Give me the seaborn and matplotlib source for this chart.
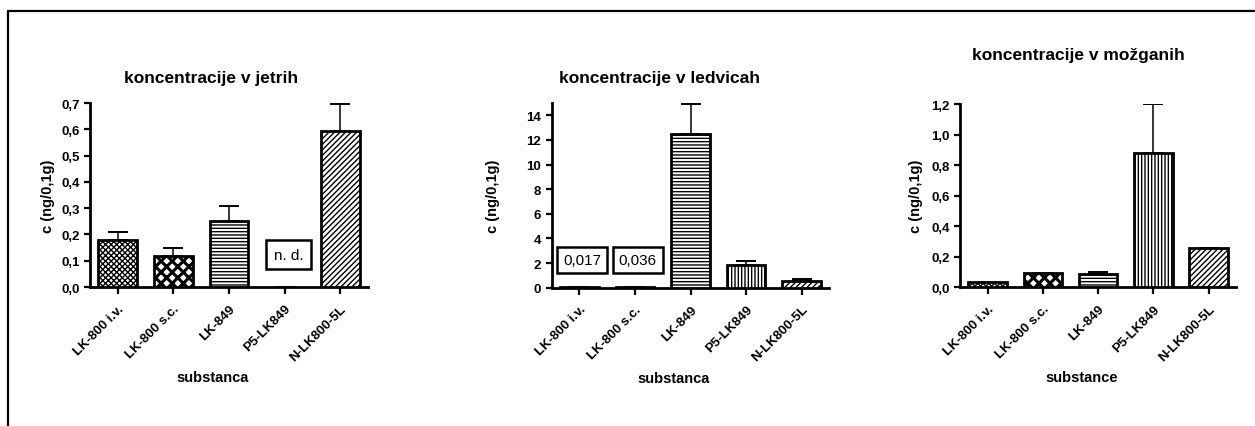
import numpy as np
import pandas as pd
import matplotlib
matplotlib.use("Agg")
import matplotlib.pyplot as plt
from matplotlib.lines import Line2D
from matplotlib.ticker import FuncFormatter
import seaborn as sns

sns.set_style("ticks")
plt.rcParams["font.family"] = ["Liberation Sans", "DejaVu Sans"]
plt.rcParams["hatch.linewidth"] = 1.0
for key in ["text.color", "axes.labelcolor", "xtick.color", "ytick.color",
            "axes.edgecolor"]:
    plt.rcParams[key] = "black"

substance = ["LK-800 i.v.", "LK-800 s.c.", "LK-849", "P5-LK849", "N-LK800-5L"]

# jetra (liver) - P5-LK849 not detected
jetra = [0.180, 0.117, 0.252, 0.0, 0.592]
jetra_err = [0.028, 0.030, 0.055, 0.0, 0.106]

# ledvice (kidney)
ledvice = [0.017, 0.036, 12.5, 1.85, 0.57]
ledvice_err = [0.0, 0.0, 2.46, 0.33, 0.11]

# mozgani (brain)
mozgani = [0.037, 0.096, 0.090, 0.883, 0.258]
mozgani_err = [0.0, 0.0, 0.013, 0.317, 0.0]

hatches = ["xxxxxx", "xxx", "-----", "|||||", "//////"]
hatch_lw = [1.0, 2.2, 1.0, 1.0, 1.0]

fig = plt.figure(figsize=(12.55, 4.27), dpi=100)


def comma_fmt(v, pos):
    return f"{v:.1f}".replace(".", ",")


def bar_panel(rect, values, errors, title, title_x, title_y, ylim, yticks,
              xlabel, ylabel_x, fmt):
    ax = fig.add_axes(rect)
    df = pd.DataFrame({"substanca": substance, "c": values})
    sns.barplot(data=df, x="substanca", y="c", order=substance, errorbar=None,
                color="white", edgecolor="black", linewidth=2.0, width=0.7,
                ax=ax, zorder=3)
    for patch, h, hl in zip(ax.patches, hatches, hatch_lw):
        patch.set_hatch(h)
        patch.set_facecolor("white")
        if hasattr(patch, "set_hatch_linewidth"):
            patch.set_hatch_linewidth(hl)
    for i, v in enumerate(values):
        if v == 0:
            ax.patches[i].set_linewidth(0)
    ax.errorbar(range(len(values)), values,
                yerr=[np.zeros(len(errors)), errors],
                fmt="none", ecolor="black", elinewidth=1.1, capsize=7,
                capthick=1.4, zorder=2)
    ax.set_xlim(-0.5, 4.5)
    ax.set_ylim(*ylim)
    ax.set_yticks(yticks)
    if fmt is not None:
        ax.yaxis.set_major_formatter(FuncFormatter(fmt))
    sns.despine(ax=ax)
    for s in ["left", "bottom"]:
        ax.spines[s].set_linewidth(2.0)
    ax.tick_params(axis="both", direction="out", width=1.6, length=4,
                   labelsize=9.5)
    ax.tick_params(axis="x", length=5, pad=6)
    for lab in ax.get_yticklabels():
        lab.set_fontweight("bold")
    ax.set_xticks(range(len(substance)))
    ax.set_xticklabels(substance, rotation=45, ha="right",
                       rotation_mode="anchor", fontweight="bold", fontsize=9.5)
    ax.set_xlabel(xlabel, fontweight="bold", fontsize=10.5)
    ax.xaxis.set_label_coords(0.44, -0.45)
    ax.set_ylabel("c (ng/0,1g)", fontweight="bold", fontsize=10.5)
    ax.yaxis.set_label_coords(ylabel_x, 0.5)
    ax.text(title_x, title_y, title, transform=ax.transAxes, ha="center",
            va="center", fontweight="bold", fontsize=12.5)
    return ax


box = dict(boxstyle="square,pad=0.5", facecolor="white", edgecolor="black",
           linewidth=1.8)

ax1 = bar_panel([0.0717, 0.3255, 0.2215, 0.4309], jetra, jetra_err,
                "koncentracije v jetrih", 0.435, 1.14, (0, 0.7),
                np.arange(0, 0.71, 0.1), "substanca", -0.126, comma_fmt)
ax1.text(3.07, 0.123, "n. d.", ha="center", va="center", fontsize=11,
         bbox=box, zorder=5)

ax2 = bar_panel([0.4396, 0.3239, 0.2212, 0.4325], ledvice, ledvice_err,
                "koncentracije v ledvicah", 0.39, 1.14, (0, 15),
                np.arange(0, 15, 2), "substanca", -0.186, None)
ax2.text(0.05, 2.25, "0,017", ha="center", va="center", fontsize=11,
         bbox=dict(box, boxstyle="square,pad=0.4"), zorder=5)
ax2.text(1.05, 2.25, "0,036", ha="center", va="center", fontsize=11,
         bbox=dict(box, boxstyle="square,pad=0.4"), zorder=5)

ax3 = bar_panel([0.765, 0.3248, 0.22, 0.4286], mozgani, mozgani_err,
                "koncentracije v možganih", 0.43, 1.27, (0, 1.2),
                np.arange(0, 1.21, 0.2), "substance", -0.134, comma_fmt)

# frame lines (top and left)
fig.add_artist(Line2D([0.0064, 0.0064], [0.0, 0.9719], color="black",
                      linewidth=1.6, transform=fig.transFigure))
fig.add_artist(Line2D([0.0064, 1.0], [0.9719, 0.9719], color="black",
                      linewidth=1.6, transform=fig.transFigure))

fig.savefig("out.png", dpi=100)
